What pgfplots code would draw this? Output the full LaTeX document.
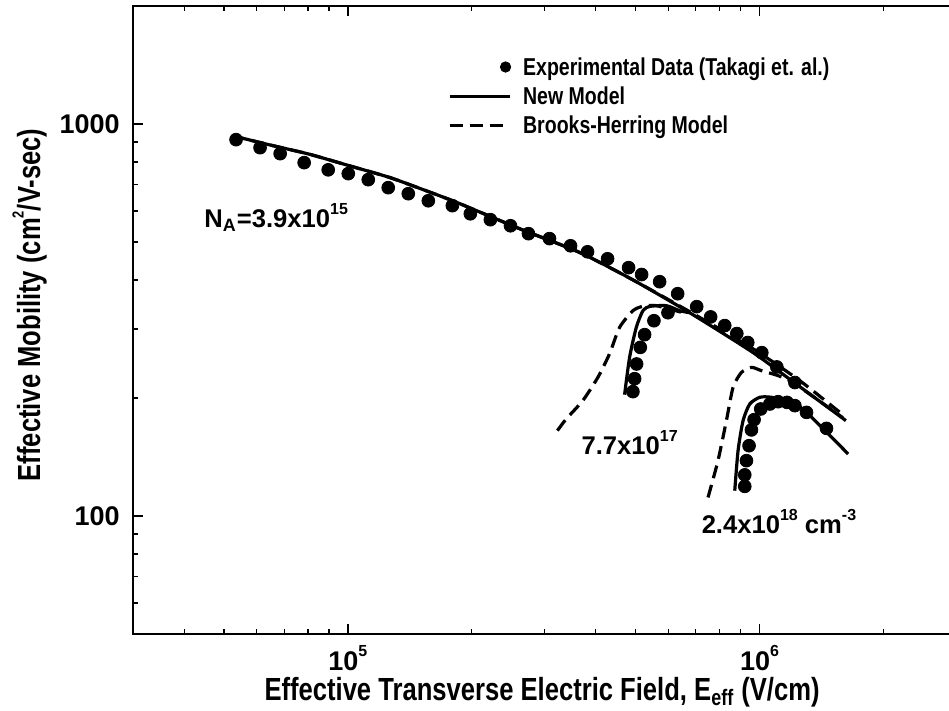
\documentclass[border=0pt]{standalone}
\usepackage{pgfplots}
\pgfplotsset{compat=1.18}
\usepackage{pgfplotstable}
\usepackage{fontspec}
\setmainfont{Liberation Sans}
\newfontfamily\narrow[FakeStretch=0.8]{Liberation Sans}
\usetikzlibrary{calc}
\newcommand\sups[1]{\raisebox{0.52em}{\fontsize{8}{8}\selectfont #1}}

% Experimental data (Takagi et al.)
\pgfplotstableread{
x y
53480 912
61170 870
68450 840
78300 797
89560 764
100200 747
112060 721
125300 688
140200 664
156800 637
179400 619
198400 590
221900 570
248300 550
274600 525
308900 510
347500 489
382200 472
427500 453
480800 430
517200 413
572000 396
632800 369
703900 342
761100 322
823300 306
880900 292
936500 277
1013000 261
1102000 240
1219000 219
}\dotsA
\pgfplotstableread{
x y
492600 207.6
497300 224
502900 244.2
513400 269.2
525900 290.1
554100 314.9
599300 330
}\dotsB
\pgfplotstableread{
x y
921000 119.0
921000 127.3
929800 138.4
943400 151.1
956100 165.8
970300 176.1
1007000 187.5
1060000 193.1
1110000 195.7
1167000 194.9
1219000 191.2
1301000 183.8
1455000 167.3
}\dotsC
% New model
\pgfplotstableread{
x y
52300 933.8
64350 885.1
80510 837.5
100700 782.8
126050 730.9
151600 681.3
183400 631.5
261100 540.7
365400 470.3
491700 400.6
676800 330
963200 261.4
1253000 213.7
1622000 175.1
}\newA
\pgfplotstableread{
x y
470200 203.9
483500 253.8
502000 302.8
521000 333.9
541000 342.5
593900 344
639900 333.9
676800 330
}\newB
\pgfplotstableread{
x y
870900 116.0
887100 146.8
912300 175.1
947200 193.1
1002000 200.8
1069000 200.8
1207000 194.9
1326000 180.3
1643000 143.9
}\newC
% Brooks-Herring model
\pgfplotstableread{
x y
52300 933.8
64350 885.1
80510 837.5
100700 782.8
126050 730.9
151600 681.3
183400 631.5
261100 540.7
365400 470.3
491700 400.6
676800 332
963200 267.2
1253000 221.4
1594000 181.3
}\bhA
\pgfplotstableread{
x y
322900 165.1
339200 176.8
372100 196.9
404900 225.7
432300 259.4
457200 302.8
492600 333.9
520100 342.5
561500 344
664300 328.1
}\bhB
\pgfplotstableread{
x y
749900 111.5
793000 138.4
831100 175.1
862700 212.9
904100 232.4
956100 239.4
1011000 234.8
1185000 221.4
1594000 178.1
}\bhC

\begin{document}
\begin{tikzpicture}
\begin{axis}[
  name=ax,
  xmode=log, ymode=log,
  scale only axis,
  width=411.55pt, height=314pt,
  xmin=3e4, xmax=3e6, ymin=50, ymax=2000,
  axis line style={black, line width=1pt},
  tick style={black, line width=0.6pt},
  major tick length=5pt, minor tick length=2.5pt,
  ytick pos=left,
  xtick={1e5,1e6},
  xticklabels={10\sups{5},10\sups{6}},
  minor xtick={4e4,5e4,6e4,7e4,8e4,9e4,2e5,3e5,4e5,5e5,6e5,7e5,8e5,9e5,2e6},
  ytick={100,1000},
  yticklabels={100,1000},
  minor ytick={60,70,80,90,200,300,400,500,600,700,800,900},
  ticklabel style={font=\bfseries\fontsize{13.5}{15}\selectfont},
  yticklabel style={xshift=-3pt},
  xticklabel style={yshift=-2pt},
  xlabel={Effective Transverse Electric Field, E\textsubscript{eff} (V/cm)},
  ylabel={Effective Mobility (cm\sups{2}/V-sec)},
  label style={font=\narrow\bfseries\fontsize{16}{18}\selectfont},
  xlabel style={at={(axis description cs:0.4973,-0.0924)}, anchor=center},
  ylabel style={at={(axis description cs:-0.1253,0.524)}, anchor=center},
  legend style={at={(rel axis cs:0.3831,0.924)}, anchor=north west,
    draw=none, fill=none, inner sep=0pt, outer sep=0pt, row sep=1.2pt,
    font=\narrow\bfseries\fontsize{12.2}{14}\selectfont,
    nodes={inner sep=0pt, text height=11pt, text depth=2.3pt},
    /tikz/every odd column/.append style={column sep=6pt}},
  legend cell align=left,
]
\addlegendimage{only marks, mark=*, mark size=3pt, black,
  legend image code/.code={\path (0pt,0pt) (30pt,0pt); \fill[black] (28pt,0pt) circle (2.6pt);}}
\addlegendentry{Experimental Data (Takagi et. al.)}
\addlegendimage{black, line width=1.5pt,
  legend image code/.code={\draw[black, line width=1.5pt] (0pt,0pt) -- (30pt,0pt);}}
\addlegendentry{New Model}
\addlegendimage{black, line width=1.5pt,
  legend image code/.code={\draw[black, line width=1.5pt, dash pattern=on 6.5pt off 3.5pt] (0pt,0pt) -- (30pt,0pt);}}
\addlegendentry{Brooks-Herring Model}

\addplot[forget plot, black, line width=1.6pt, smooth, tension=0.4] table {\newA};
\addplot[forget plot, black, line width=1.6pt, smooth, tension=0.4] table {\newB};
\addplot[forget plot, black, line width=1.6pt, smooth, tension=0.4] table {\newC};
\addplot[forget plot, black, line width=1.6pt, dash pattern=on 6.5pt off 3.5pt, smooth, tension=0.4] table {\bhA};
\addplot[forget plot, black, line width=1.6pt, dash pattern=on 6.5pt off 3.5pt, smooth, tension=0.4] table {\bhB};
\addplot[forget plot, black, line width=1.6pt, dash pattern=on 6.5pt off 3.5pt, smooth, tension=0.4] table {\bhC};
\addplot[forget plot, only marks, mark=*, mark size=3.2pt, black] table {\dotsA};
\addplot[forget plot, only marks, mark=*, mark size=3.2pt, black] table {\dotsB};
\addplot[forget plot, only marks, mark=*, mark size=3.2pt, black] table {\dotsC};

\node[anchor=base west, inner sep=0pt, font=\bfseries\fontsize{12.8}{15}\selectfont] at (axis cs:44710,543.8) {N\textsubscript{A}=3.9x10\sups{15}};
\node[anchor=base west, inner sep=0pt, font=\bfseries\fontsize{12.8}{15}\selectfont] at (axis cs:368900,143.3) {7.7x10\sups{17}};
\node[anchor=base west, inner sep=0pt, font=\bfseries\fontsize{12.8}{15}\selectfont] at (axis cs:722500,89.98) {2.4x10\sups{18} cm\sups{-3}};
\end{axis}
\pgfresetboundingbox
\path[use as bounding box] ($(ax.south west)+(-66.35pt,-38.5pt)$) rectangle ($(ax.north west)+(408.15pt,3pt)$);
\end{tikzpicture}
\end{document}
